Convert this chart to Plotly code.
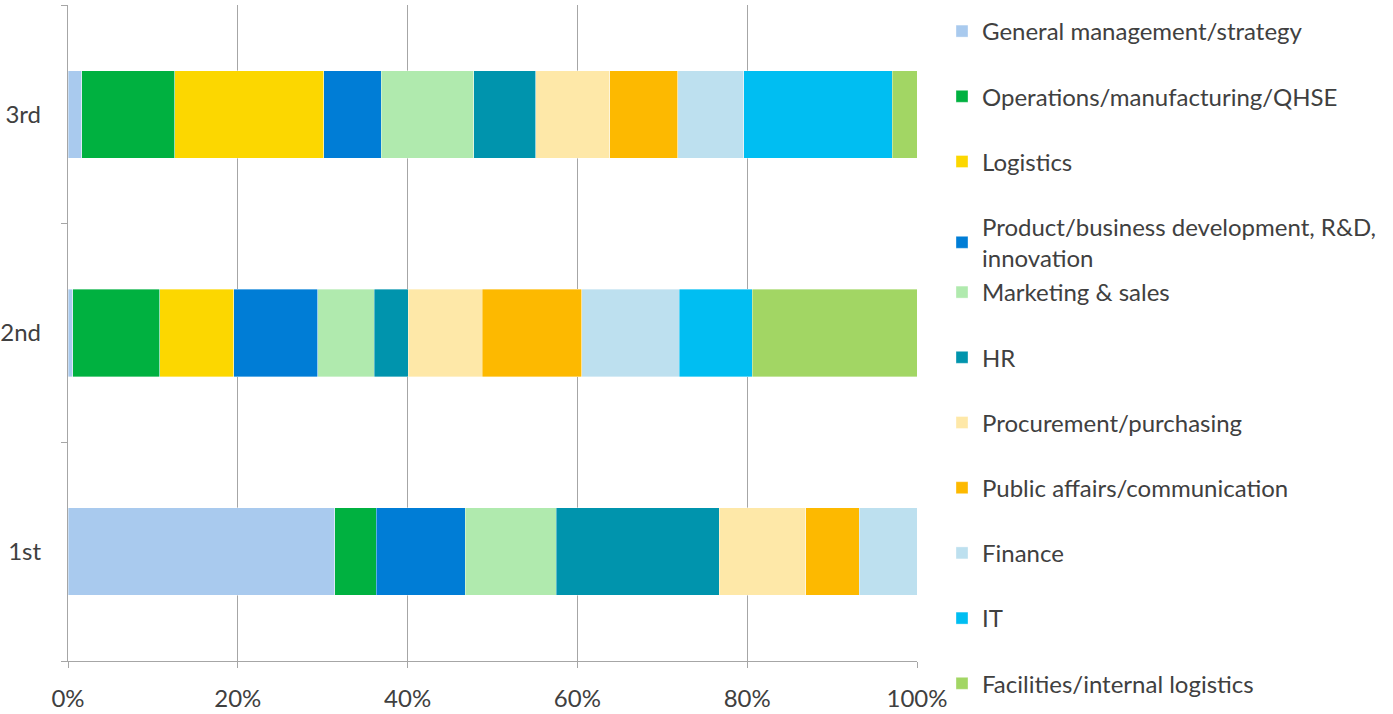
import plotly.graph_objects as go

categories = ["1st", "2nd", "3rd"]

series_names = [
    "General management/strategy",
    "Operations/manufacturing/QHSE",
    "Logistics",
    "Product/business development, R&D,<br>innovation",
    "Marketing & sales",
    "HR",
    "Procurement/purchasing",
    "Public affairs/communication",
    "Finance",
    "IT",
    "Facilities/internal logistics",
]

general_management = [31.4, 0.55, 1.6]
operations = [4.9, 10.25, 11.0]
logistics = [0.0, 8.7, 17.5]
product_dev = [10.5, 9.9, 6.8]
marketing = [10.7, 6.7, 10.9]
hr = [19.2, 4.0, 7.3]
procurement = [10.2, 8.7, 8.7]
public_affairs = [6.3, 11.7, 8.0]
finance = [6.8, 11.5, 7.8]
it = [0.0, 8.6, 17.5]
facilities = [0.0, 19.4, 2.9]

series_values = [general_management, operations, logistics, product_dev, marketing,
                 hr, procurement, public_affairs, finance, it, facilities]

colors = ["#A9CAEE", "#00B140", "#FCD700", "#007DD6", "#B0EAAE", "#0094AD",
          "#FEE8A8", "#FDB900", "#BDE0EF", "#00BEF2", "#A2D664"]

x_ticks = [0, 20, 40, 60, 80, 100]

FONT = "Lato"
TXT = "#404040"
GRID = "#A6A6A6"
FS = 24

fig = go.Figure()
for i, (name, vals, col) in enumerate(zip(series_names, series_values, colors)):
    fig.add_trace(go.Bar(
        y=categories, x=vals, name=name, orientation="h",
        marker=dict(color=col, line=dict(color="rgba(255,255,255,0.6)", width=0.6)),
        legendgroup="g%d" % i,
        legend="legend" if i < 4 else "legend2",
    ))

W, H = 1393, 714
ml, mr, mt, mb = 68, W - 917, 5, H - 661
ph = H - mt - mb

def py(ypx):
    return (H - mb - ypx) / ph

legend_common = dict(
    font=dict(family=FONT, size=FS, color=TXT),
    traceorder="grouped",
    tracegroupgap=31,
    bgcolor="rgba(0,0,0,0)",
    xanchor="left", yanchor="top",
    x=(942 - ml) / (W - ml - mr),
    itemclick=False, itemdoubleclick=False,
)

fig.update_layout(
    width=W, height=H,
    margin=dict(l=ml, r=mr, t=mt, b=mb, autoexpand=False),
    barmode="stack", bargap=0.6,
    plot_bgcolor="white", paper_bgcolor="white",
    font=dict(family=FONT, size=FS, color=TXT),
    showlegend=True,
    legend=dict(**legend_common, y=py(9)),
    legend2=dict(**legend_common, y=py(270)),
    xaxis=dict(
        range=[0, 100], tickvals=x_ticks, ticktext=["%d%%" % v for v in x_ticks],
        showgrid=True, gridcolor=GRID, gridwidth=1.3,
        showline=True, linecolor=GRID, linewidth=1.3,
        ticks="outside", ticklen=6, tickcolor=GRID, tickwidth=1.3,
        zeroline=False, ticklabelstandoff=10, automargin=False,
        tickfont=dict(family=FONT, size=FS, color=TXT), fixedrange=True,
    ),
    yaxis=dict(
        type="category", categoryorder="array", categoryarray=categories,
        showline=True, linecolor=GRID, linewidth=1.3,
        ticks="outside", ticklen=6, tickcolor=GRID, tickwidth=1.3,
        tickson="boundaries", showgrid=False, zeroline=False,
        ticklabelstandoff=21, automargin=False,
        tickfont=dict(family=FONT, size=FS, color=TXT), fixedrange=True,
    ),
)

fig.write_html(
    "out.html",
    config={"displayModeBar": False},
    post_script="document.body.style.margin='0';",
)
